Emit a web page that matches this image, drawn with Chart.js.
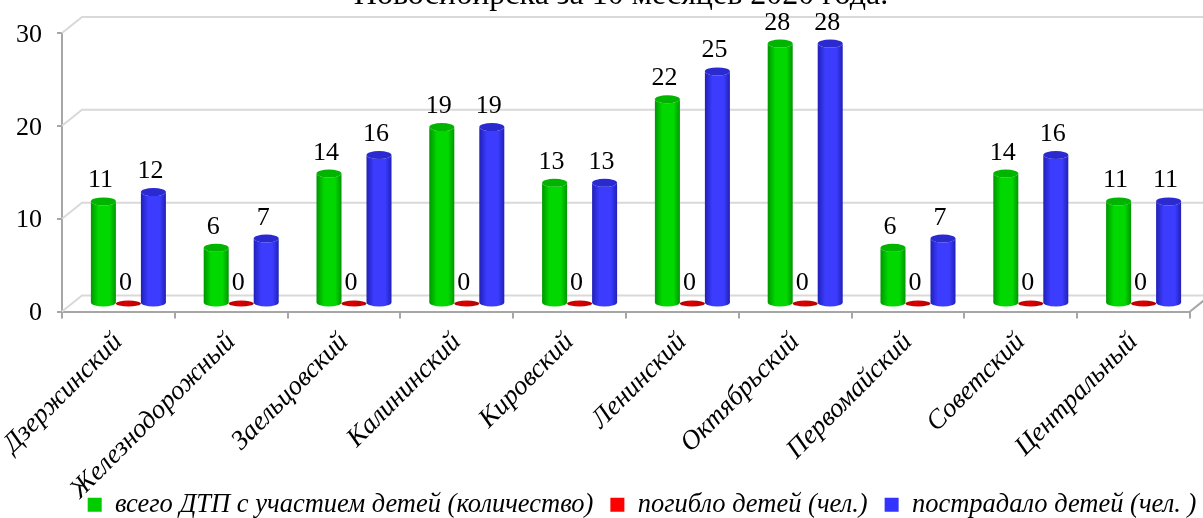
<!DOCTYPE html>
<html>
<head>
<meta charset="utf-8">
<script src="https://cdn.jsdelivr.net/npm/chart.js@4.4.1/dist/chart.umd.min.js"></script>
<style>
  html, body { margin: 0; padding: 0; background: #fff; }
  #wrap { width: 1203px; height: 518px; }
</style>
</head>
<body>
<div id="wrap"><canvas id="chart"></canvas></div>
<script>
// data
const districts = ["Дзержинский", "Железнодорожный", "Заельцовский", "Калининский", "Кировский",
  "Ленинский", "Октябрьский", "Первомайский", "Советский", "Центральный"];
const totalAccidents = [11, 6, 14, 19, 13, 22, 28, 6, 14, 11];
const childrenKilled = [0, 0, 0, 0, 0, 0, 0, 0, 0, 0];
const childrenInjured = [12, 7, 16, 19, 13, 25, 28, 7, 16, 11];
const yTicks = [0, 10, 20, 30];
const seriesNames = ["всего ДТП с участием детей (количество)", "погибло детей (чел.)", "пострадало детей (чел. )"];
const titleText = "Новосибирска за 10 месяцев 2020 года.";

const FONT = '"Liberation Serif", "Times New Roman", serif';
const AXIS = "#a6a6a6";
const WALL = "#d9d9d9";
// depth of the fake 3d box
const DEPTH_X = 20, DEPTH_Y = -16;
const LEGEND_SHIFT = 47;

const shades = [
  { dark: "#009600", light: "#00d800", cap: "#00b400" },
  { dark: "#b00000", light: "#e00000", cap: "#c80000" },
  { dark: "#2020b8", light: "#3c3cff", cap: "#2a2ad0" },
];

function cylinder(ctx, cx, top, base, w, c) {
  const rx = w / 2, ry = 4, x0 = cx - rx;
  if (Math.abs(base - top) < 1) {
    // flat disc for zero values
    const g = ctx.createLinearGradient(x0, 0, x0 + w, 0);
    g.addColorStop(0, c.dark); g.addColorStop(0.4, c.light); g.addColorStop(1, c.dark);
    ctx.fillStyle = g;
    ctx.beginPath();
    ctx.ellipse(cx, base, rx, 3, 0, 0, Math.PI * 2);
    ctx.fill();
    return;
  }
  const g = ctx.createLinearGradient(x0, 0, x0 + w, 0);
  g.addColorStop(0, c.dark);
  g.addColorStop(0.3, c.light);
  g.addColorStop(0.75, c.light);
  g.addColorStop(1, c.dark);
  ctx.fillStyle = g;
  ctx.beginPath();
  ctx.moveTo(x0, top);
  ctx.lineTo(x0, base);
  ctx.ellipse(cx, base, rx, ry, 0, Math.PI, 0, true);
  ctx.lineTo(x0 + w, top);
  ctx.ellipse(cx, top, rx, ry, 0, 0, Math.PI, false);
  ctx.closePath();
  ctx.fill();
  ctx.fillStyle = c.cap;
  ctx.beginPath();
  ctx.ellipse(cx, top, rx, ry, 0, 0, Math.PI * 2);
  ctx.fill();
}

const box3d = {
  id: "box3d",
  afterLayout(chart) {
    // category labels run down into the legend band, don't clip them
    chart.scales.x._computeLabelArea = () => null;
    // legend sits a bit right of centre in the original
    chart.legend.left += LEGEND_SHIFT;
    chart.legend.right += LEGEND_SHIFT;
  },
  beforeDatasetsDraw(chart) {
    const { ctx, chartArea: a, scales: { y } } = chart;
    ctx.save();
    // back wall grid lines
    ctx.strokeStyle = WALL;
    ctx.lineWidth = 2;
    yTicks.forEach((v) => {
      const py = y.getPixelForValue(v);
      ctx.beginPath();
      ctx.moveTo(a.left, py);
      ctx.lineTo(a.left + DEPTH_X, py + DEPTH_Y);
      ctx.lineTo(a.right + DEPTH_X, py + DEPTH_Y);
      ctx.stroke();
    });
    // right edge of the floor
    ctx.strokeStyle = AXIS;
    ctx.beginPath();
    ctx.moveTo(a.right, a.bottom);
    ctx.lineTo(a.right + DEPTH_X, a.bottom + DEPTH_Y);
    ctx.stroke();
    ctx.restore();
  },
  beforeDatasetDraw() {
    return false; // bars are drawn as cylinders below
  },
  afterDatasetsDraw(chart) {
    const ctx = chart.ctx;
    ctx.save();
    ctx.translate(DEPTH_X / 2, DEPTH_Y / 2);
    chart.data.datasets.forEach((ds, i) => {
      chart.getDatasetMeta(i).data.forEach((bar) => {
        cylinder(ctx, bar.x, bar.y, bar.base, bar.width, shades[i]);
      });
    });
    ctx.fillStyle = "#000";
    ctx.font = "26px " + FONT;
    ctx.textAlign = "center";
    ctx.textBaseline = "alphabetic";
    chart.data.datasets.forEach((ds, i) => {
      chart.getDatasetMeta(i).data.forEach((bar, j) => {
        ctx.fillText(String(ds.data[j]), bar.x - 3, bar.y - 14);
      });
    });
    ctx.restore();
  },
  afterDraw(chart) {
    const ctx = chart.ctx;
    ctx.save();
    ctx.fillStyle = "#000";
    ctx.font = "32px " + FONT;
    ctx.textAlign = "center";
    ctx.textBaseline = "alphabetic";
    ctx.fillText(titleText, 621, 4);
    ctx.restore();
  },
};

new Chart(document.getElementById("chart"), {
  type: "bar",
  data: {
    labels: districts,
    datasets: [
      { label: seriesNames[0], data: totalAccidents, backgroundColor: "#00cc00" },
      { label: seriesNames[1], data: childrenKilled, backgroundColor: "#ff0000" },
      { label: seriesNames[2], data: childrenInjured, backgroundColor: "#3333ff" },
    ],
  },
  options: {
    responsive: true,
    maintainAspectRatio: false,
    animation: false,
    datasets: { bar: { barPercentage: 1, categoryPercentage: 0.665 } },
    layout: { padding: { top: 33, right: 13, left: 0, bottom: -10 } },
    scales: {
      x: {
        grid: { drawOnChartArea: false, tickLength: 7, color: AXIS, lineWidth: 2, offset: true },
        border: { color: AXIS, width: 2 },
        ticks: {
          color: "#000",
          font: { family: FONT, size: 27, style: "italic" },
          minRotation: 45,
          maxRotation: 45,
          autoSkip: false,
          padding: 8,
        },
        afterFit(scale) {
          scale.height = 163;
          scale.paddingLeft = 0;
          scale.paddingRight = 0;
        },
      },
      y: {
        min: 0,
        max: 30,
        grid: { drawOnChartArea: false, tickLength: 5, color: AXIS, lineWidth: 2 },
        border: { color: AXIS, width: 2 },
        ticks: {
          stepSize: 10,
          color: "#000",
          padding: 15,
          labelOffset: 2,
          font: { family: FONT, size: 26 },
        },
        afterFit(scale) {
          scale.width = 62;
        },
      },
    },
    plugins: {
      legend: {
        position: "bottom",
        labels: {
          color: "#000",
          font: { family: FONT, size: 26.5, style: "italic" },
          boxWidth: 14,
          boxHeight: 14,
          padding: 17,
        },
      },
      tooltip: { enabled: false },
    },
  },
  plugins: [box3d],
});
</script>
</body>
</html>
